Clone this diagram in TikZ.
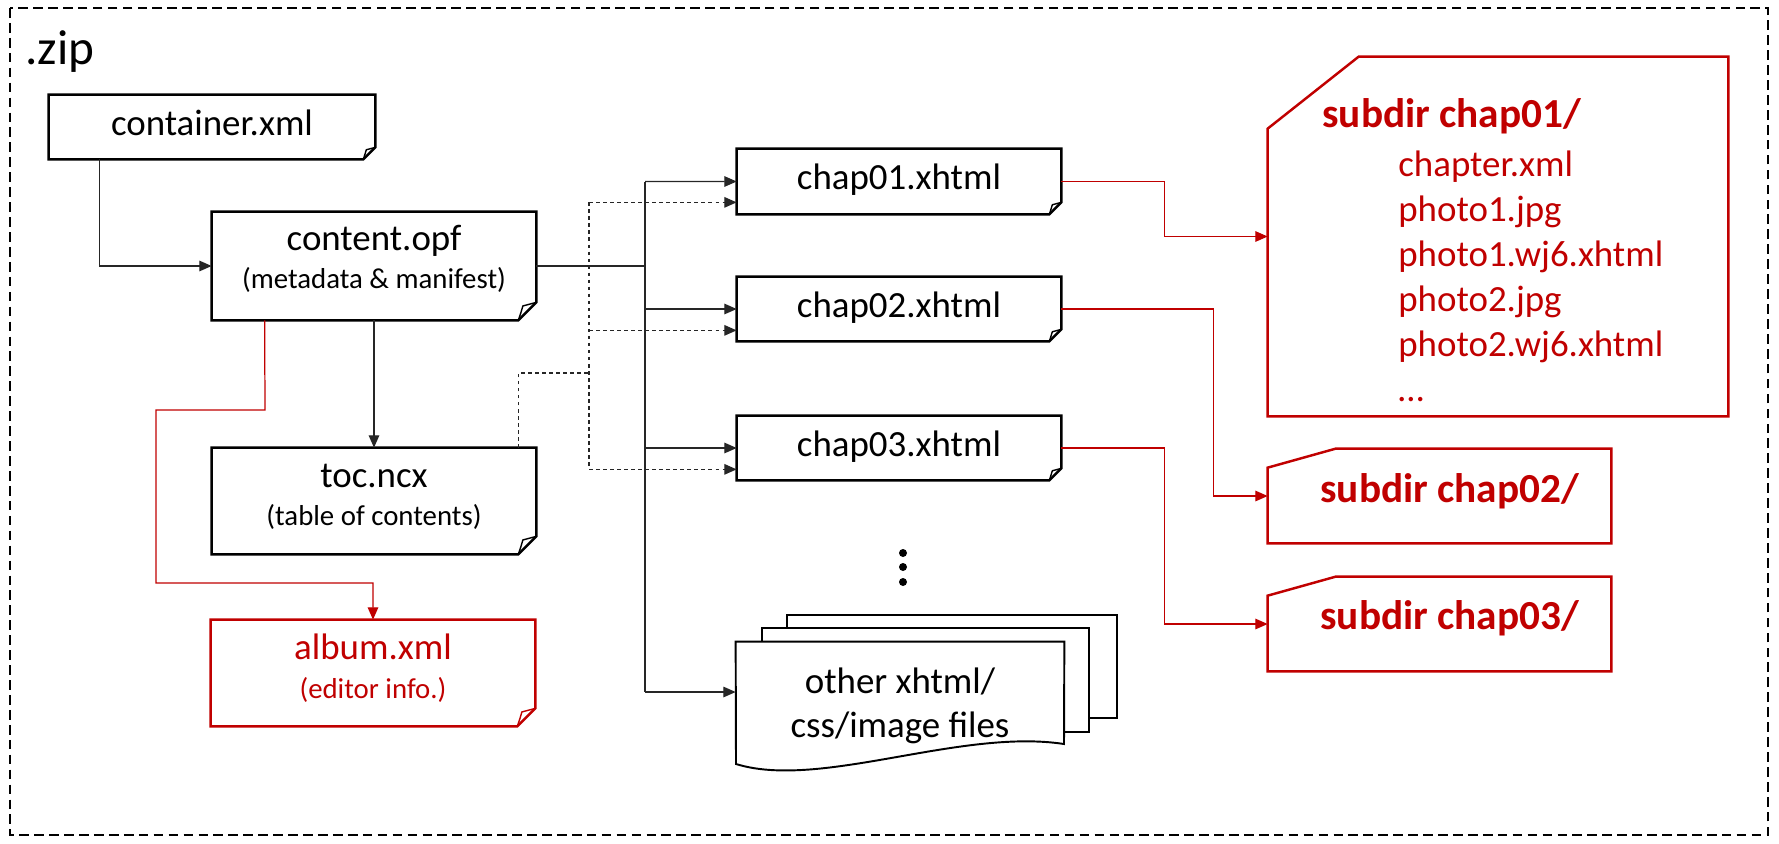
\documentclass[tikz,border=0pt]{standalone}
\usepackage{fontspec}
\setmainfont{Carlito}
\usetikzlibrary{arrows.meta,calc,fit}
\definecolor{dred}{HTML}{C00000}
\tikzset{
  boxline/.style={line width=1.4pt, line join=miter},
  foldline/.style={line width=0.8pt, line join=round},
  conn/.style={line width=0.7pt, draw=black!85},
  arr/.style={-{Triangle[length=7pt,width=6pt]}},
  dconn/.style={conn, dash pattern=on 2pt off 2pt},
  rconn/.style={line width=0.7pt, draw=dred},
  area/.style={inner sep=0pt, draw=none},
  ttl/.style={anchor=base, inner sep=0pt, font=\fontsize{21}{25}\selectfont},
  subt/.style={anchor=base, inner sep=0pt, font=\fontsize{16.4}{20}\selectfont},
  lst/.style={anchor=base west, inner sep=0pt, text=dred, font=\fontsize{21}{25}\selectfont},
  bld/.style={anchor=base west, inner sep=0pt, text=dred, font=\fontsize{23.5}{28}\selectfont\bfseries},
}
\newcommand{\foldoutline}[3][black]{%
  \draw[boxline,draw=#1] (#2.north west) -- (#2.north east) -- ($(#2.south east)+(0,-#3)$)
     -- ($(#2.south east)+(-#3,0)$) -- (#2.south west) -- cycle;
  \draw[foldline,draw=#1] ($(#2.south east)+(-#3,0)$) .. controls ($(#2.south east)+(-0.85*#3,-0.45*#3)$) .. ($(#2.south east)+(-0.75*#3,-0.8*#3)$)
     -- ($(#2.south east)+(0,-#3)$);
}
\begin{document}
\begin{tikzpicture}[x=0.02cm,y=-0.02cm]
\useasboundingbox (0,0) rectangle (1779,843);
% outer zip frame
\draw[line width=1.1pt, dash pattern=on 5.5pt off 3pt] (10,8) rectangle (1768,835);
\node[anchor=base west, inner sep=0pt, font=\fontsize{28}{32}\selectfont] (zip) at (25,64) {.zip};

% box areas
\node[area, fit={(49,95) (375,159)}] (container) {};
\node[area, fit={(212,212) (536,320)}] (content) {};
\node[area, fit={(212,448) (536,554)}] (toc) {};
\node[area, fit={(211,620) (535,726)}] (album) {};
\node[area, fit={(737,149) (1061,214)}] (chap01) {};
\node[area, fit={(737,277) (1061,341)}] (chap02) {};
\node[area, fit={(737,416) (1061,480)}] (chap03) {};
\node[area, fit={(736,642) (1064,742)}] (other) {};
\node[area, fit={(1268,57) (1728,416)}] (sub1) {};
\node[area, fit={(1268,449) (1611,543)}] (sub2) {};
\node[area, fit={(1268,577) (1611,671)}] (sub3) {};

% folded-corner documents
\foldoutline{container}{12}
\foldoutline{content}{18}
\foldoutline{toc}{18}
\foldoutline[dred]{album}{18}
\foldoutline{chap01}{12}
\foldoutline{chap02}{12}
\foldoutline{chap03}{12}

% multi-document
\draw[line width=1.1pt, fill=white] (787,615) rectangle (1117,718);
\draw[line width=1.1pt, fill=white] (762,628) rectangle (1089,732);
\draw[line width=1.1pt, fill=white] (other.north west) -- (other.north east) -- (1064,744)
   .. controls (960,728) and (820,790) .. (736,764) -- cycle;

% cut-corner folders
\draw[boxline, draw=dred] ($(sub1.north west)+(0,72)$) -- ($(sub1.north west)+(91,0)$) -- (sub1.north east)
   -- (sub1.south east) -- (sub1.south west) -- cycle;
\draw[boxline, draw=dred] ($(sub2.north west)+(0,19)$) -- ($(sub2.north west)+(68,0)$) -- (sub2.north east)
   -- (sub2.south east) -- (sub2.south west) -- cycle;
\draw[boxline, draw=dred] ($(sub3.north west)+(0,19)$) -- ($(sub3.north west)+(68,0)$) -- (sub3.north east)
   -- (sub3.south east) -- (sub3.south west) -- cycle;

% texts
\node[ttl] (containerT) at (212,135) {container.xml};
\node[ttl] (contentT) at (374,250) {content.opf};
\node[subt] (contentS) at (374,288) {(metadata \& manifest)};
\node[ttl] (tocT) at (374,487) {toc.ncx};
\node[subt] (tocS) at (374,525) {(table of contents)};
\node[ttl, text=dred] (albumT) at (373,659) {album.xml};
\node[subt, text=dred] (albumS) at (373,698) {(editor info.)};
\node[ttl] (chap01T) at (899,189.5) {chap01.xhtml};
\node[ttl] (chap02T) at (899,317) {chap02.xhtml};
\node[ttl] (chap03T) at (899,456) {chap03.xhtml};
\node[ttl] (otherT1) at (900,693) {other xhtml/};
\node[ttl] (otherT2) at (900,737) {css/image files};
\node[bld] (sub1T) at (1322,127) {subdir chap01/};
\node[lst] (f1) at (1398,176) {chapter.xml};
\node[lst] (f2) at (1398,221) {photo1.jpg};
\node[lst] (f3) at (1398,266) {photo1.wj6.xhtml};
\node[lst] (f4) at (1398,311) {photo2.jpg};
\node[lst] (f5) at (1398,356) {photo2.wj6.xhtml};
\node[lst] (f6) at (1398,401) {…};
\node[bld] (sub2T) at (1320,502) {subdir chap02/};
\node[bld] (sub3T) at (1320,629) {subdir chap03/};

% vertical dots
\fill (903,553) circle (4) (903,567) circle (4) (903,582) circle (4);

% connectors (black)
\coordinate (tr) at (645,266);
\coordinate (trtop) at (645,181.5);
\coordinate (trbot) at (645,692);
\draw[conn, arr] ($(container.south west)+(51,0)$) |- (content.west);
\draw[conn, arr] (content.south) -- (toc.north);
\draw[conn] (content.east) -- (tr);
\draw[conn] (trtop) -- (trbot);
\draw[conn, arr] (trtop) -- (chap01.west);
\draw[conn, arr] (tr |- chap02.west) -- (chap02.west);
\draw[conn, arr] (tr |- chap03.west) -- (chap03.west);
\draw[conn, arr] (trbot) -- (other.west);

% dashed connectors from toc
\coordinate (d1) at ($(chap01.south west)+(0,-12)$);
\coordinate (d2) at ($(chap02.south west)+(0,-11)$);
\coordinate (d3) at ($(chap03.south west)+(0,-11)$);
\coordinate (dj) at (589,373);
\draw[dconn] ($(toc.north east)+(-18,0)$) |- (dj);
\draw[dconn] (dj |- d1) -- (dj |- d3);
\draw[dconn, arr] (dj |- d1) -- (d1);
\draw[dconn, arr] (dj |- d2) -- (d2);
\draw[dconn, arr] (dj |- d3) -- (d3);

% red connectors
\draw[rconn, arr] ($(content.south west)+(53,0)$) -- (265,410) -- (156,410) -- (156,583) -| (album.north);
\draw[rconn, arr] (chap01.east) -- ++(103,0) |- (sub1.west);
\draw[rconn, arr] (chap02.east) -- ++(152,0) |- (sub2.west);
\draw[rconn, arr] (chap03.east) -- ++(103,0) |- (sub3.west);
\end{tikzpicture}
\end{document}
